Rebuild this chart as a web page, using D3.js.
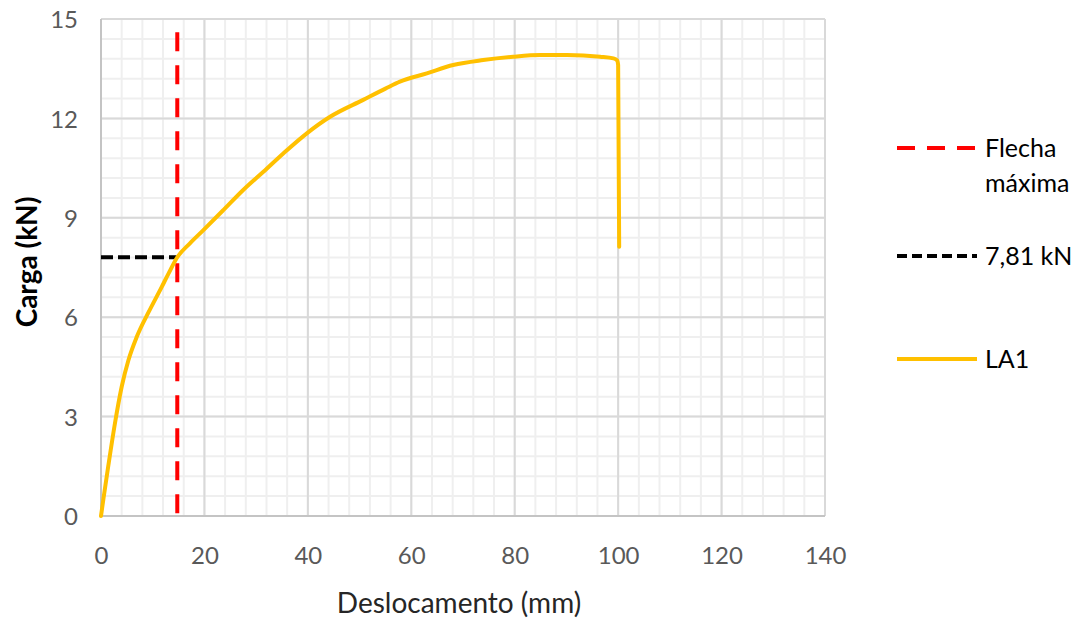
<!DOCTYPE html>
<html>
<head>
<meta charset="utf-8">
<script src="https://cdn.jsdelivr.net/npm/d3@7"></script>
<style>
  html, body { margin: 0; padding: 0; background: #fff; }
  svg { display: block; font-family: Lato, "Open Sans", sans-serif; }
</style>
</head>
<body>
<svg id="chart" width="1078" height="620"></svg>
<script>
// ---- data ----
const displacement = [0, 0.5, 1.4, 2.7, 4.0, 5.3, 6.9, 9.2, 11.7, 13.0, 14.75, 17.2, 19.8, 23.7, 27.5, 31.4, 35.3, 39.8, 44.3, 50.7, 55.0, 57.8, 63.0, 68.1, 73.9, 79.7, 84.9, 90.1, 96.5, 99.1, 99.8, 100.0, 100.2];
const load         = [0, 0.55, 1.5, 2.8, 3.9, 4.7, 5.4, 6.15, 6.9, 7.3, 7.81, 8.23, 8.63, 9.24, 9.84, 10.39, 10.95, 11.55, 12.05, 12.56, 12.9, 13.11, 13.36, 13.61, 13.76, 13.86, 13.91, 13.91, 13.86, 13.81, 13.75, 13.61, 8.13];
const flechaX = [14.75, 14.75];
const flechaY = [14.6, 0];
const refX = [0, 14.75];
const refY = [7.81, 7.81];
const xTicks = [0, 20, 40, 60, 80, 100, 120, 140];
const yTicks = [0, 3, 6, 9, 12, 15];
const xMinor = d3.range(0, 140.001, 4);
const yMinor = d3.range(0, 15.001, 0.6);
const legendLabels = [["Flecha", "máxima"], ["7,81 kN"], ["LA1"]];

// ---- layout ----
const svg = d3.select("#chart");
const L = 101, T = 19, R = 825, B = 516;
const x = d3.scaleLinear().domain([0, 140]).range([L, R]);
const y = d3.scaleLinear().domain([0, 15]).range([B, T]);

// minor grid
const g = svg.append("g");
g.selectAll("line.mx").data(xMinor).join("line")
  .attr("x1", d => x(d)).attr("x2", d => x(d)).attr("y1", T).attr("y2", B)
  .attr("stroke", "#efefef").attr("stroke-width", 2);
g.selectAll("line.my").data(yMinor).join("line")
  .attr("y1", d => y(d)).attr("y2", d => y(d)).attr("x1", L).attr("x2", R)
  .attr("stroke", "#efefef").attr("stroke-width", 2);
// major grid
g.selectAll("line.Mx").data(xTicks).join("line")
  .attr("x1", d => x(d)).attr("x2", d => x(d)).attr("y1", T).attr("y2", B)
  .attr("stroke", "#d9d9d9").attr("stroke-width", 2);
g.selectAll("line.My").data(yTicks).join("line")
  .attr("y1", d => y(d)).attr("y2", d => y(d)).attr("x1", L).attr("x2", R)
  .attr("stroke", "#d9d9d9").attr("stroke-width", 2);
// axis lines
svg.append("line").attr("x1", L).attr("x2", L).attr("y1", T).attr("y2", B)
  .attr("stroke", "#c4c4c4").attr("stroke-width", 2);
svg.append("line").attr("x1", L).attr("x2", R).attr("y1", B).attr("y2", B)
  .attr("stroke", "#c4c4c4").attr("stroke-width", 2);

// axes (labels)
const xAxis = svg.append("g").attr("transform", `translate(0,${B})`)
  .call(d3.axisBottom(x).tickValues(xTicks).tickSize(0).tickPadding(0).tickFormat(d3.format("d")));
xAxis.select(".domain").remove();
xAxis.selectAll("text").attr("y", 48).attr("dy", null)
  .attr("font-size", 24).attr("fill", "#595959").attr("font-family", "Lato, sans-serif");

const yAxis = svg.append("g").attr("transform", `translate(${L},0)`)
  .call(d3.axisLeft(y).tickValues(yTicks).tickSize(0).tickPadding(0).tickFormat(d3.format("d")));
yAxis.select(".domain").remove();
yAxis.selectAll("text").attr("x", -23).attr("dy", "0.36em")
  .attr("font-size", 24).attr("fill", "#595959").attr("font-family", "Lato, sans-serif");

// lines
const line = d3.line().x(d => x(d[0])).y(d => y(d[1]));
svg.append("path").datum(d3.zip(flechaX, flechaY)).attr("d", line)
  .attr("fill", "none").attr("stroke", "#ff0000").attr("stroke-width", 4)
  .attr("stroke-dasharray", "19,14");
svg.append("path").datum(d3.zip(refX, refY)).attr("d", line)
  .attr("fill", "none").attr("stroke", "#000").attr("stroke-width", 4)
  .attr("stroke-dasharray", "12,5");
const smooth = d3.line().x(d => x(d[0])).y(d => y(d[1])).curve(d3.curveMonotoneX);
svg.append("path").datum(d3.zip(displacement, load)).attr("d", smooth)
  .attr("fill", "none").attr("stroke", "#ffc000").attr("stroke-width", 4)
  .attr("stroke-linejoin", "round").attr("stroke-linecap", "round");

// axis titles
svg.append("text").attr("x", 459).attr("y", 613).attr("text-anchor", "middle")
  .attr("font-size", 28).attr("fill", "#262626").text("Deslocamento (mm)");
svg.append("text").attr("transform", "translate(37,262) rotate(-90)").attr("text-anchor", "middle")
  .attr("font-size", 28).attr("font-weight", 700).attr("fill", "#000").text("Carga (kN)");

// legend
const leg = svg.append("g");
const legY = [148, 256, 359];
const legStyles = [
  { stroke: "#ff0000", dash: "18,12" },
  { stroke: "#000", dash: "10,5" },
  { stroke: "#ffc000", dash: null }
];
legendLabels.forEach((lines, i) => {
  leg.append("line").attr("x1", 897).attr("x2", 977).attr("y1", legY[i]).attr("y2", legY[i])
    .attr("stroke", legStyles[i].stroke).attr("stroke-width", 4)
    .attr("stroke-dasharray", legStyles[i].dash);
  const t = leg.append("text").attr("x", 985).attr("y", legY[i] + 9)
    .attr("font-size", 25).attr("fill", "#000");
  lines.forEach((s, j) => {
    t.append("tspan").attr("x", 985).attr("dy", j === 0 ? 0 : 35).text(s);
  });
});
</script>
</body>
</html>
